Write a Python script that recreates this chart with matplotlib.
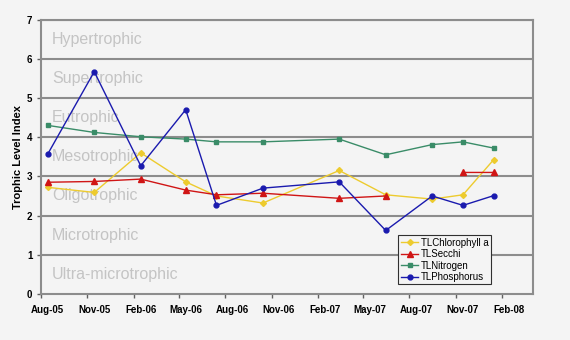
import datetime as dt
import matplotlib
matplotlib.use("Agg")
import matplotlib.pyplot as plt
import matplotlib.dates as mdates
from matplotlib.transforms import ScaledTranslation
import numpy as np

plt.rcParams["font.family"] = ["Liberation Sans", "DejaVu Sans"]

# sampling dates (mid-month)
dates = [dt.date(2005, 8, 15), dt.date(2005, 11, 15), dt.date(2006, 2, 15),
         dt.date(2006, 5, 15), dt.date(2006, 7, 15), dt.date(2006, 10, 15),
         dt.date(2007, 3, 15), dt.date(2007, 6, 15), dt.date(2007, 9, 15),
         dt.date(2007, 11, 15), dt.date(2008, 1, 15)]

chlorophyll = [2.72, 2.59, 3.60, 2.86, 2.50, 2.32, 3.15, 2.53, 2.42, 2.53, 3.43]
secchi = [2.85, 2.87, 2.93, 2.65, 2.53, 2.57, 2.44, 2.50, np.nan, 3.10, 3.10]
nitrogen = [4.30, 4.12, 4.01, 3.95, 3.88, 3.88, 3.95, 3.55, 3.81, 3.88, 3.72]
phosphorus = [3.57, 5.67, 3.27, 4.70, 2.26, 2.70, 2.86, 1.62, 2.50, 2.26, 2.51]

zones = ["Ultra-microtrophic", "Microtrophic", "Oligotrophic", "Mesotrophic",
         "Eutrophic", "Supertrophic", "Hypertrophic"]

bg = "#f4f4f4"
fig = plt.figure(figsize=(5.7, 3.4), dpi=100, facecolor=bg)
ax = fig.add_axes([0.0714, 0.1353, 0.8632, 0.8073], facecolor=bg)

x0 = dt.date(2005, 8, 1)
x1 = dt.date(2008, 4, 1)

for i, name in enumerate(zones):
    ax.text(x0 + dt.timedelta(days=22), i + 0.5, name, fontsize=11.5,
            color="#c4c4c4", va="center", ha="left", zorder=1)

for y in range(1, 8):
    ax.axhline(y, color="#8c8c8c", lw=1.5, zorder=1)

ax.plot(dates, chlorophyll, color="#EDCB2E", marker="D", ms=3,
        lw=1.0, label="TLChlorophyll a", zorder=3)
ax.plot(dates, secchi, color="#D01515", marker="^", ms=4,
        lw=1.0, label="TLSecchi", zorder=3)
ax.plot(dates, nitrogen, color="#3A8C68", marker="s", ms=3.5,
        lw=1.0, label="TLNitrogen", zorder=3)
ax.plot(dates, phosphorus, color="#1A1AAE", marker="o", ms=3.5,
        lw=1.0, label="TLPhosphorus", zorder=4)

ax.set_xlim(x0, x1)
ax.set_ylim(0, 7)
ax.set_yticks(range(8))
ax.xaxis.set_major_locator(mdates.MonthLocator(bymonth=[2, 5, 8, 11]))
ax.xaxis.set_major_formatter(mdates.DateFormatter("%b-%y"))

for s in ax.spines.values():
    s.set_color("#8c8c8c")
    s.set_linewidth(1.5)

ax.tick_params(axis="both", length=3, width=1, color="#606060",
               labelsize=7)
ax.tick_params(axis="x", pad=5)
ax.tick_params(axis="y", pad=3)
shift = ScaledTranslation(0.07, 0, fig.dpi_scale_trans)
for lab in ax.get_xticklabels():
    lab.set_fontweight("bold")
    lab.set_transform(lab.get_transform() + shift)
for lab in ax.get_yticklabels():
    lab.set_fontweight("bold")

ax.set_ylabel("Trophic Level Index", fontsize=8, fontweight="bold", labelpad=3)

leg = ax.legend(loc="lower right", bbox_to_anchor=(0.915, 0.035), fontsize=7,
                frameon=True, fancybox=False, handlelength=1.8,
                borderpad=0.25, labelspacing=0.15, handletextpad=0.25,
                borderaxespad=0)
leg.get_frame().set_edgecolor("#303030")
leg.get_frame().set_facecolor(bg)
leg.get_frame().set_linewidth(0.8)
leg.get_frame().set_alpha(1)

fig.savefig("out.png", dpi=100, facecolor=bg)
